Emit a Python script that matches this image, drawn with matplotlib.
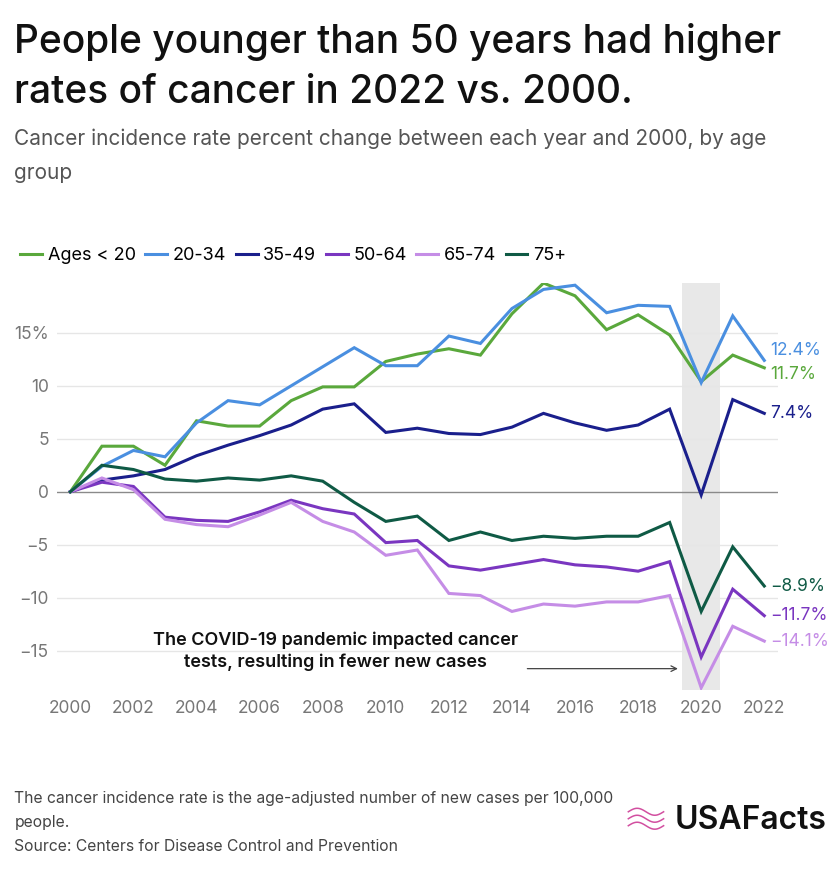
import numpy as np
import matplotlib
matplotlib.use('Agg')
import matplotlib.pyplot as plt

plt.rcParams['font.family'] = ['Inter', 'DejaVu Sans']

years = list(range(2000, 2023))
groups = ['Ages < 20', '20-34', '35-49', '50-64', '65-74', '75+']

under20 = [0, 4.3, 4.3, 2.5, 6.7, 6.2, 6.2, 8.6, 9.9, 9.9, 12.3, 13.0,
           13.5, 12.9, 16.8, 19.7, 18.5, 15.3, 16.7, 14.8, 10.4, 12.9, 11.7]
age20_34 = [0, 2.4, 3.9, 3.3, 6.5, 8.6, 8.2, 10.0, 11.8, 13.6, 11.9, 11.9,
            14.7, 14.0, 17.3, 19.1, 19.5, 16.9, 17.6, 17.5, 10.3, 16.6, 12.4]
age35_49 = [0, 1.1, 1.5, 2.1, 3.4, 4.4, 5.3, 6.3, 7.8, 8.3, 5.6, 6.0,
            5.5, 5.4, 6.1, 7.4, 6.5, 5.8, 6.3, 7.8, -0.3, 8.7, 7.4]
age50_64 = [0, 0.9, 0.5, -2.4, -2.7, -2.8, -1.9, -0.8, -1.6, -2.1, -4.8, -4.6,
            -7.0, -7.4, -6.9, -6.4, -6.9, -7.1, -7.5, -6.6, -15.6, -9.2, -11.7]
age65_74 = [0, 1.3, 0.2, -2.6, -3.1, -3.3, -2.2, -1.0, -2.8, -3.8, -6.0, -5.5,
            -9.6, -9.8, -11.3, -10.6, -10.8, -10.4, -10.4, -9.8, -18.5, -12.7, -14.1]
age75 = [0, 2.5, 2.1, 1.2, 1.0, 1.3, 1.1, 1.5, 1.0, -1.0, -2.8, -2.3,
         -4.6, -3.8, -4.6, -4.2, -4.4, -4.2, -4.2, -2.9, -11.3, -5.2, -8.9]

series = [under20, age20_34, age35_49, age50_64, age65_74, age75]
colors = ['#5aa83c', '#4a8fe0', '#1a1f8c', '#7a36c0', '#c58de6', '#0f5a45']
end_labels = ['11.7%', '12.4%', '7.4%', '-11.7%', '-14.1%', '-8.9%']
end_offsets = [-0.6, 0.9, 0, 0, 0, 0]

yticks = [-15, -10, -5, 0, 5, 10, 15]
ytick_labels = ['\u221215', '\u221210', '\u22125', '0', '5', '10', '15%']
xticks = list(range(2000, 2023, 2))

fig = plt.figure(figsize=(8.4, 8.71), dpi=100)
ax = fig.add_axes([0.068, 0.208, 0.858, 0.467])

ax.axvspan(2019.4, 2020.6, color='#e8e8e8', zorder=0, lw=0)
for t in yticks:
    if t != 0:
        ax.axhline(t, color='#e6e6e6', lw=1, zorder=1)
ax.axhline(0, color='#8a8a8a', lw=1, zorder=1)

for s, c, g in zip(series, colors, groups):
    ax.plot(years, s, color=c, lw=2.2, label=g, zorder=3, solid_joinstyle='miter')

for s, c, lab, off in zip(series, colors, end_labels, end_offsets):
    ax.text(2022.2, s[-1] + off, lab.replace('-', '\u2212'), color=c, fontsize=12.5,
            va='center', ha='left')

ax.set_xlim(1999.58, 2022.43)
ax.set_ylim(-18.7, 19.7)
ax.set_yticks(yticks)
ax.set_yticklabels(ytick_labels)
ax.set_xticks(xticks)
ax.tick_params(length=0, labelsize=12.5, labelcolor='#777777')
ax.tick_params(axis='x', pad=7)
ax.tick_params(axis='y', pad=6)
for sp in ax.spines.values():
    sp.set_visible(False)

ax.text(2008.4, -15.05, 'The COVID-19 pandemic impacted cancer\ntests, resulting in fewer new cases',
        ha='center', va='center', fontsize=13, fontweight='semibold', color='#111111',
        linespacing=1.3)
ax.annotate('', xy=(2019.35, -16.7), xytext=(2014.4, -16.7),
            arrowprops=dict(arrowstyle='->', color='#444444', lw=0.9))

leg = fig.legend(loc='upper left', bbox_to_anchor=(0.005, 0.735), ncol=6, frameon=False,
                 fontsize=13, handlelength=1.2, handletextpad=0.3, columnspacing=0.55)

fig.text(0.017, 0.974, 'People younger than 50 years had higher\nrates of cancer in 2022 vs. 2000.',
         fontsize=28, fontweight='medium', va='top', ha='left', color='#111111',
         linespacing=1.45)
fig.text(0.017, 0.852, 'Cancer incidence rate percent change between each year and 2000, by age\ngroup',
         fontsize=15, va='top', ha='left', color='#555555', linespacing=1.85)
fig.text(0.017, 0.092, 'The cancer incidence rate is the age-adjusted number of new cases per 100,000\npeople.\nSource: Centers for Disease Control and Prevention',
         fontsize=11.3, va='top', ha='left', color='#444444', linespacing=1.75)

fig.text(0.984, 0.058, 'USAFacts', fontsize=23, fontweight='semibold', ha='right',
         va='center', color='#111111')
# little pink waves for the logo icon
t = np.linspace(0, 1, 30)
for k in range(3):
    fig.add_artist(plt.Line2D(0.748 + 0.042 * t, 0.068 - 0.008 * k + 0.004 * np.sin(t * 2 * np.pi),
                              color='#d24fa0', lw=1.1, transform=fig.transFigure))

fig.savefig('out.png', dpi=100, facecolor='white')
